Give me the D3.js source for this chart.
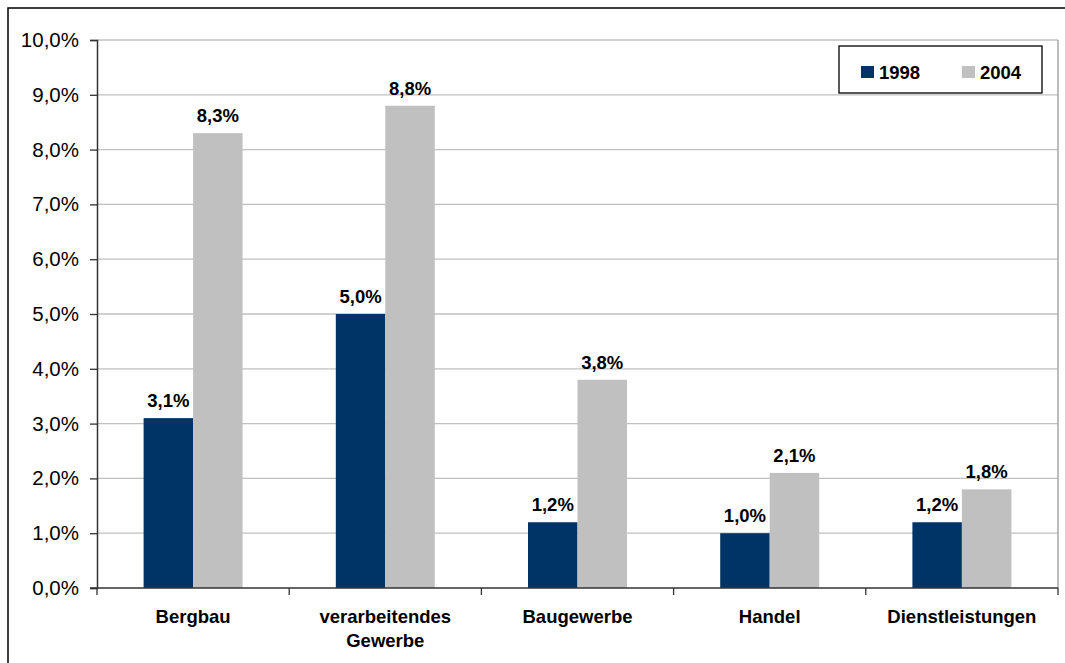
<!DOCTYPE html>
<html>
<head>
<meta charset="utf-8">
<script src="https://cdn.jsdelivr.net/npm/d3@7"></script>
<style>
  body { margin: 0; background: #fff; }
  svg { font-family: "Liberation Sans", Arial, sans-serif; }
</style>
</head>
<body>
<div id="chart"></div>
<script>
const categories = ['Bergbau', 'verarbeitendes\nGewerbe', 'Baugewerbe', 'Handel', 'Dienstleistungen'];
const seriesNames = ['1998', '2004'];
const values1998 = [3.1, 5.0, 1.2, 1.0, 1.2];
const values2004 = [8.3, 8.8, 3.8, 2.1, 1.8];
const yTicks = [0, 1, 2, 3, 4, 5, 6, 7, 8, 9, 10];

const colors = ['#003366', '#c0c0c0'];
const width = 1065;
const height = 663;
const plot = { left: 97, right: 1058, top: 40, bottom: 588 };

const fmt = (d) => d.toFixed(1).replace('.', ',') + '%';

const data = categories.map((c, i) => ({ cat: c, vals: [values1998[i], values2004[i]] }));

const svg = d3.select('#chart')
    .append('svg')
    .attr('width', width)
    .attr('height', height);

// outer frame
svg.append('rect')
    .attr('x', 8).attr('y', 8)
    .attr('width', width + 20).attr('height', height + 20)
    .attr('fill', 'none').attr('stroke', '#000').attr('stroke-width', 1.5);

// scales
const x = d3.scaleBand()
    .domain(categories)
    .range([plot.left, plot.right])
    .paddingInner(0.485)
    .paddingOuter(0.2425);

const x1 = d3.scaleBand()
    .domain(seriesNames)
    .range([0, x.bandwidth()]);

const y = d3.scaleLinear()
    .domain([0, 10])
    .range([plot.bottom, plot.top]);

// gridlines
svg.append('g').selectAll('line')
    .data(yTicks.filter((d) => d > 0))
    .enter()
    .append('line')
    .attr('x1', plot.left).attr('x2', plot.right)
    .attr('y1', (d) => y(d)).attr('y2', (d) => y(d))
    .attr('stroke', '#c0c0c0').attr('stroke-width', 1.3);

// right border of plot area
svg.append('line')
    .attr('x1', plot.right).attr('x2', plot.right)
    .attr('y1', plot.top).attr('y2', plot.bottom)
    .attr('stroke', '#a6a6a6').attr('stroke-width', 1.5);

// bars
const groups = svg.append('g').selectAll('g')
    .data(data)
    .enter()
    .append('g')
    .attr('transform', (d) => `translate(${x(d.cat)},0)`);

groups.selectAll('rect')
    .data((d) => d.vals.map((v, i) => ({ v, s: seriesNames[i], i })))
    .enter()
    .append('rect')
    .attr('x', (d) => x1(d.s))
    .attr('width', x1.bandwidth())
    .attr('y', (d) => y(d.v))
    .attr('height', (d) => y(0) - y(d.v))
    .attr('fill', (d) => colors[d.i]);

groups.selectAll('text')
    .data((d) => d.vals.map((v, i) => ({ v, s: seriesNames[i] })))
    .enter()
    .append('text')
    .attr('x', (d) => x1(d.s) + x1.bandwidth() / 2)
    .attr('y', (d) => y(d.v) - 11)
    .attr('text-anchor', 'middle')
    .style('font-size', '18.5px')
    .attr('font-weight', 'bold')
    .attr('fill', '#000')
    .text((d) => fmt(d.v));

// y axis
const yAxis = d3.axisLeft(y).tickValues(yTicks).tickFormat(fmt).tickSize(7).tickPadding(11);
const gy = svg.append('g')
    .attr('transform', `translate(${plot.left},0)`)
    .call(yAxis);
gy.select('.domain').attr('stroke', '#333').attr('stroke-width', 1.5);
gy.selectAll('.tick line').attr('stroke', '#333').attr('stroke-width', 1.3);
gy.selectAll('.tick text')
    .style('font-size', '20.5px')
    .style('font-family', '"Liberation Sans", Arial, sans-serif')
    .attr('fill', '#000');

// x axis
svg.append('line')
    .attr('x1', plot.left - 7).attr('x2', plot.right)
    .attr('y1', plot.bottom).attr('y2', plot.bottom)
    .attr('stroke', '#333').attr('stroke-width', 1.5);

svg.append('g').selectAll('line')
    .data(d3.range(categories.length + 1))
    .enter()
    .append('line')
    .attr('x1', (d) => plot.left + d * x.step())
    .attr('x2', (d) => plot.left + d * x.step())
    .attr('y1', plot.bottom).attr('y2', plot.bottom + 7)
    .attr('stroke', '#333').attr('stroke-width', 1.3);

const xl = svg.append('g').selectAll('text')
    .data(categories)
    .enter()
    .append('text')
    .attr('x', (d) => x(d) + x.bandwidth() / 2)
    .attr('y', 623)
    .attr('text-anchor', 'middle')
    .style('font-size', '18.5px')
    .attr('font-weight', 'bold')
    .attr('fill', '#000');

xl.selectAll('tspan')
    .data((d) => d.split('\n'))
    .enter()
    .append('tspan')
    .attr('x', function () { return d3.select(this.parentNode).attr('x'); })
    .attr('dy', (d, i) => i === 0 ? 0 : 24)
    .text((d) => d);

// legend
const legend = svg.append('g').attr('transform', 'translate(839,46)');
legend.append('rect')
    .attr('width', 203).attr('height', 47)
    .attr('fill', '#fff').attr('stroke', '#000').attr('stroke-width', 1.3);

const items = legend.selectAll('g')
    .data(seriesNames)
    .enter()
    .append('g')
    .attr('transform', (d, i) => `translate(${22 + i * 101},20)`);

items.append('rect')
    .attr('width', 13).attr('height', 12)
    .attr('fill', (d, i) => colors[i]);

items.append('text')
    .attr('x', 18).attr('y', 12.5)
    .style('font-size', '18.5px')
    .attr('font-weight', 'bold')
    .text((d) => d);
</script>
</body>
</html>
